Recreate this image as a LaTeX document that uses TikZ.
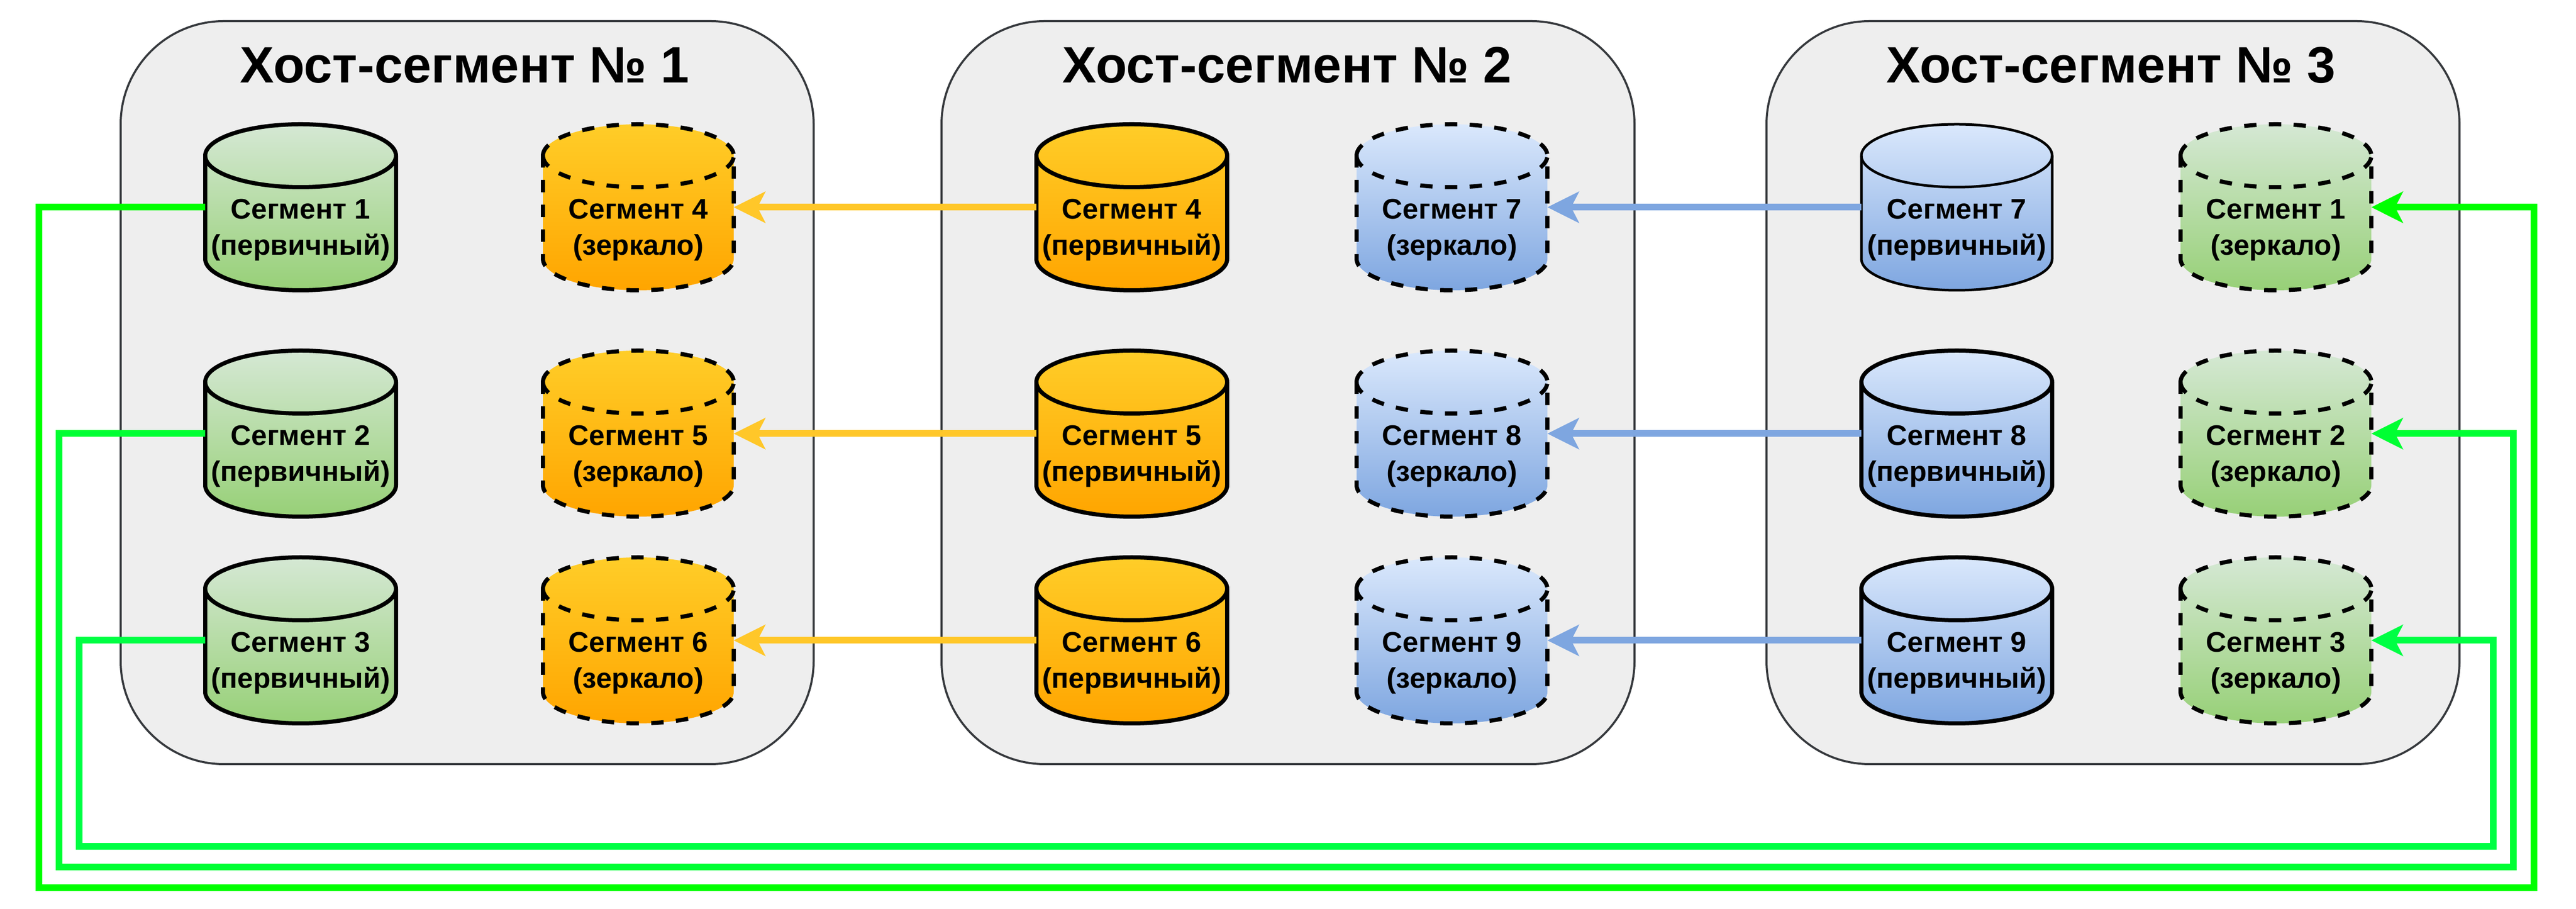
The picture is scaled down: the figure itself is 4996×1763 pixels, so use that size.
\documentclass[tikz,border=0pt]{standalone}
\usepackage{fontspec}
\setmainfont{Liberation Sans}
\usetikzlibrary{arrows.meta}
\definecolor{gTop}{HTML}{D5E8D4}\definecolor{gBot}{HTML}{97D077}
\definecolor{oTop}{HTML}{FFCD28}\definecolor{oBot}{HTML}{FFA500}
\definecolor{bTop}{HTML}{DAE8FC}\definecolor{bBot}{HTML}{7EA6E0}
\definecolor{hostFill}{HTML}{EEEEEE}\definecolor{hostLine}{HTML}{36393D}
\definecolor{arrOrange}{HTML}{FFC729}\definecolor{arrBlue}{HTML}{7EA6E0}
\definecolor{arrGa}{HTML}{00FF00}\definecolor{arrGb}{HTML}{00FF33}\definecolor{arrGc}{HTML}{00FF44}
\tikzset{
  x=1pt,y=1pt,
  hostbox/.style={draw=hostLine,fill=hostFill,line width=4pt,rounded corners=200pt,minimum width=1344pt,minimum height=1441pt,inner sep=0pt,outer sep=0pt},
  hosttitle/.style={anchor=base,inner sep=0pt,font=\bfseries\fontsize{99.3}{116}\selectfont},
  cylbox/.style={rectangle,inner sep=0pt,outer sep=0pt,minimum width=370pt,minimum height=322pt},
  cyltext/.style={align=center,inner sep=0pt,font=\bfseries\fontsize{55}{70}\selectfont},
  thickout/.style={draw=black,line width=8pt},
  thinout/.style={draw=black,line width=5pt},
  dashout/.style={draw=black,line width=8pt,dash pattern=on 24pt off 24pt},
  flow/.style={line width=13pt,-{Stealth[length=61pt,width=60pt,inset=15pt]}},
}
\newcommand{\cyl}[7]{%
  \node[cylbox] (#1) at (#2,#3) {};
  \shade[top color=#4,bottom color=#5]
    ([yshift=-61pt]#1.north west) arc[start angle=180,end angle=0,x radius=185pt,y radius=61pt]
    -- ([yshift=61pt]#1.south east) arc[start angle=0,end angle=-180,x radius=185pt,y radius=61pt] -- cycle;
  \path[#6]
    ([yshift=-61pt]#1.north west) arc[start angle=180,end angle=0,x radius=185pt,y radius=61pt]
    -- ([yshift=61pt]#1.south east) arc[start angle=0,end angle=-180,x radius=185pt,y radius=61pt] -- cycle;
  \path[#6]
    ([yshift=-61pt]#1.north west) arc[start angle=180,end angle=360,x radius=185pt,y radius=61pt];
  \node[cyltext] (#1t) at ([yshift=-44pt]#1.center) {#7};
}
\begin{document}
\begin{tikzpicture}
\useasboundingbox (0,0) rectangle (4996,1763);
% hosts
\node[hostbox] (h1) at (906,1001.5) {};
\node[hostbox] (h2) at (2498,1001.5) {};
\node[hostbox] (h3) at (4098,1001.5) {};
\node[hosttitle] (t1) at (901,1602) {Хост-сегмент № 1};
\node[hosttitle] (t2) at (2496,1602) {Хост-сегмент № 2};
\node[hosttitle] (t3) at (4094,1602) {Хост-сегмент № 3};
% host 1
\cyl{a1}{583}{1361}{gTop}{gBot}{thickout}{Сегмент 1\\(первичный)}
\cyl{a2}{583}{922}{gTop}{gBot}{thickout}{Сегмент 2\\(первичный)}
\cyl{a3}{583}{521}{gTop}{gBot}{thickout}{Сегмент 3\\(первичный)}
\cyl{b4}{1238}{1361}{oTop}{oBot}{dashout}{Сегмент 4\\(зеркало)}
\cyl{b5}{1238}{922}{oTop}{oBot}{dashout}{Сегмент 5\\(зеркало)}
\cyl{b6}{1238}{521}{oTop}{oBot}{dashout}{Сегмент 6\\(зеркало)}
% host 2
\cyl{c4}{2195}{1361}{oTop}{oBot}{thickout}{Сегмент 4\\(первичный)}
\cyl{c5}{2195}{922}{oTop}{oBot}{thickout}{Сегмент 5\\(первичный)}
\cyl{c6}{2195}{521}{oTop}{oBot}{thickout}{Сегмент 6\\(первичный)}
\cyl{d7}{2816}{1361}{bTop}{bBot}{dashout}{Сегмент 7\\(зеркало)}
\cyl{d8}{2816}{922}{bTop}{bBot}{dashout}{Сегмент 8\\(зеркало)}
\cyl{d9}{2816}{521}{bTop}{bBot}{dashout}{Сегмент 9\\(зеркало)}
% host 3
\cyl{e7}{3795}{1361}{bTop}{bBot}{thinout}{Сегмент 7\\(первичный)}
\cyl{e8}{3795}{922}{bTop}{bBot}{thickout}{Сегмент 8\\(первичный)}
\cyl{e9}{3795}{521}{bTop}{bBot}{thickout}{Сегмент 9\\(первичный)}
\cyl{f1}{4414}{1361}{gTop}{gBot}{dashout}{Сегмент 1\\(зеркало)}
\cyl{f2}{4414}{922}{gTop}{gBot}{dashout}{Сегмент 2\\(зеркало)}
\cyl{f3}{4414}{521}{gTop}{gBot}{dashout}{Сегмент 3\\(зеркало)}
% straight replication arrows
\draw[flow,arrOrange] (c4.west) -- (b4.east);
\draw[flow,arrOrange] (c5.west) -- (b5.east);
\draw[flow,arrOrange] (c6.west) -- (b6.east);
\draw[flow,arrBlue] (e7.west) -- (d7.east);
\draw[flow,arrBlue] (e8.west) -- (d8.east);
\draw[flow,arrBlue] (e9.west) -- (d9.east);
% routed corners
\coordinate (g1l) at (75,41);   \coordinate (g1r) at (4914,41);
\coordinate (g2l) at (114,81);  \coordinate (g2r) at (4874,81);
\coordinate (g3l) at (153,121); \coordinate (g3r) at (4835,121);
\draw[flow,arrGa] (a1.west) -| (g1l) -- (g1r) |- (f1.east);
\draw[flow,arrGb] (a2.west) -| (g2l) -- (g2r) |- (f2.east);
\draw[flow,arrGc] (a3.west) -| (g3l) -- (g3r) |- (f3.east);
\end{tikzpicture}
\end{document}
